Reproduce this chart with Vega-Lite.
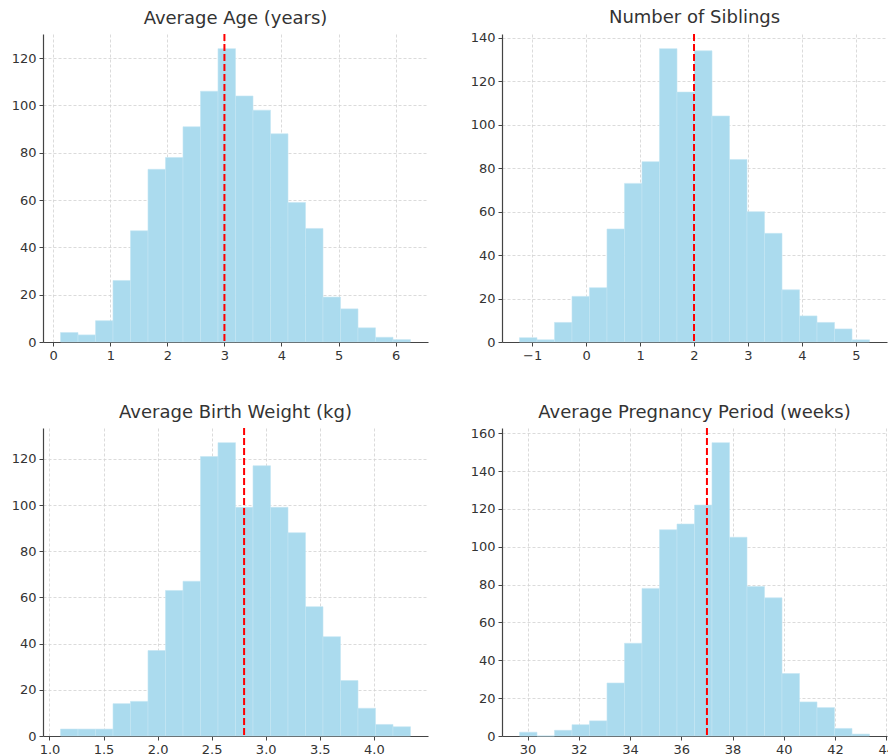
{
  "$schema": "https://vega.github.io/schema/vega-lite/v6.json",
  "background": "white",
  "padding": {"left": 11, "top": 8, "right": 0, "bottom": 0},
  "datasets": {
    "age": [
      {"bin_start": 0.128, "bin_end": 0.4346, "count": 4},
      {"bin_start": 0.4346, "bin_end": 0.7412, "count": 3},
      {"bin_start": 0.7412, "bin_end": 1.0478, "count": 9},
      {"bin_start": 1.0478, "bin_end": 1.3544, "count": 26},
      {"bin_start": 1.3544, "bin_end": 1.661, "count": 47},
      {"bin_start": 1.661, "bin_end": 1.9676, "count": 73},
      {"bin_start": 1.9676, "bin_end": 2.2742, "count": 78},
      {"bin_start": 2.2742, "bin_end": 2.5808, "count": 91},
      {"bin_start": 2.5808, "bin_end": 2.8874, "count": 106},
      {"bin_start": 2.8874, "bin_end": 3.194, "count": 124},
      {"bin_start": 3.194, "bin_end": 3.5006, "count": 104},
      {"bin_start": 3.5006, "bin_end": 3.8072, "count": 98},
      {"bin_start": 3.8072, "bin_end": 4.1138, "count": 88},
      {"bin_start": 4.1138, "bin_end": 4.4204, "count": 59},
      {"bin_start": 4.4204, "bin_end": 4.727, "count": 48},
      {"bin_start": 4.727, "bin_end": 5.0336, "count": 19},
      {"bin_start": 5.0336, "bin_end": 5.3402, "count": 14},
      {"bin_start": 5.3402, "bin_end": 5.6468, "count": 6},
      {"bin_start": 5.6468, "bin_end": 5.9534, "count": 2},
      {"bin_start": 5.9534, "bin_end": 6.26, "count": 1}
    ],
    "siblings": [
      {"bin_start": -1.235, "bin_end": -0.9106, "count": 2},
      {"bin_start": -0.9106, "bin_end": -0.5862, "count": 1},
      {"bin_start": -0.5862, "bin_end": -0.2618, "count": 9},
      {"bin_start": -0.2618, "bin_end": 0.0626, "count": 21},
      {"bin_start": 0.0626, "bin_end": 0.387, "count": 25},
      {"bin_start": 0.387, "bin_end": 0.7114, "count": 52},
      {"bin_start": 0.7114, "bin_end": 1.0358, "count": 73},
      {"bin_start": 1.0358, "bin_end": 1.3602, "count": 83},
      {"bin_start": 1.3602, "bin_end": 1.6846, "count": 135},
      {"bin_start": 1.6846, "bin_end": 2.009, "count": 115},
      {"bin_start": 2.009, "bin_end": 2.3334, "count": 134},
      {"bin_start": 2.3334, "bin_end": 2.6578, "count": 104},
      {"bin_start": 2.6578, "bin_end": 2.9822, "count": 84},
      {"bin_start": 2.9822, "bin_end": 3.3066, "count": 60},
      {"bin_start": 3.3066, "bin_end": 3.631, "count": 50},
      {"bin_start": 3.631, "bin_end": 3.9554, "count": 24},
      {"bin_start": 3.9554, "bin_end": 4.2798, "count": 12},
      {"bin_start": 4.2798, "bin_end": 4.6042, "count": 9},
      {"bin_start": 4.6042, "bin_end": 4.9286, "count": 6},
      {"bin_start": 4.9286, "bin_end": 5.253, "count": 1}
    ],
    "weight": [
      {"bin_start": 1.102, "bin_end": 1.2639, "count": 3},
      {"bin_start": 1.2639, "bin_end": 1.4257, "count": 3},
      {"bin_start": 1.4257, "bin_end": 1.5876, "count": 3},
      {"bin_start": 1.5876, "bin_end": 1.7494, "count": 14},
      {"bin_start": 1.7494, "bin_end": 1.9113, "count": 15},
      {"bin_start": 1.9113, "bin_end": 2.0731, "count": 37},
      {"bin_start": 2.0731, "bin_end": 2.235, "count": 63},
      {"bin_start": 2.235, "bin_end": 2.3968, "count": 67},
      {"bin_start": 2.3968, "bin_end": 2.5587, "count": 121},
      {"bin_start": 2.5587, "bin_end": 2.7205, "count": 127},
      {"bin_start": 2.7205, "bin_end": 2.8824, "count": 99},
      {"bin_start": 2.8824, "bin_end": 3.0442, "count": 117},
      {"bin_start": 3.0442, "bin_end": 3.2061, "count": 99},
      {"bin_start": 3.2061, "bin_end": 3.3679, "count": 88},
      {"bin_start": 3.3679, "bin_end": 3.5298, "count": 56},
      {"bin_start": 3.5298, "bin_end": 3.6916, "count": 43},
      {"bin_start": 3.6916, "bin_end": 3.8535, "count": 24},
      {"bin_start": 3.8535, "bin_end": 4.0153, "count": 12},
      {"bin_start": 4.0153, "bin_end": 4.1772, "count": 5},
      {"bin_start": 4.1772, "bin_end": 4.339, "count": 4}
    ],
    "pregnancy": [
      {"bin_start": 29.687, "bin_end": 30.37, "count": 2},
      {"bin_start": 30.37, "bin_end": 31.052, "count": 0},
      {"bin_start": 31.052, "bin_end": 31.735, "count": 3},
      {"bin_start": 31.735, "bin_end": 32.418, "count": 6},
      {"bin_start": 32.418, "bin_end": 33.101, "count": 8},
      {"bin_start": 33.101, "bin_end": 33.784, "count": 28},
      {"bin_start": 33.784, "bin_end": 34.466, "count": 49},
      {"bin_start": 34.466, "bin_end": 35.149, "count": 78},
      {"bin_start": 35.149, "bin_end": 35.832, "count": 109},
      {"bin_start": 35.832, "bin_end": 36.515, "count": 112},
      {"bin_start": 36.515, "bin_end": 37.197, "count": 122},
      {"bin_start": 37.197, "bin_end": 37.88, "count": 155},
      {"bin_start": 37.88, "bin_end": 38.563, "count": 105},
      {"bin_start": 38.563, "bin_end": 39.246, "count": 79},
      {"bin_start": 39.246, "bin_end": 39.928, "count": 73},
      {"bin_start": 39.928, "bin_end": 40.611, "count": 33},
      {"bin_start": 40.611, "bin_end": 41.294, "count": 18},
      {"bin_start": 41.294, "bin_end": 41.977, "count": 15},
      {"bin_start": 41.977, "bin_end": 42.66, "count": 4},
      {"bin_start": 42.66, "bin_end": 43.342, "count": 1}
    ]
  },
  "columns": 2,
  "bounds": "flush",
  "spacing": {"row": 86, "column": 74},
  "concat": [
    {
      "title": "Average Age (years)",
      "width": 385,
      "height": 308,
      "layer": [
        {
          "data": {"name": "age"},
          "mark": {"type": "bar", "color": "#ABDBEE", "stroke": "#C4E6F3", "strokeWidth": 0.6},
          "encoding": {
            "x": {"field": "bin_start", "type": "quantitative", "scale": {"domain": [-0.179, 6.567], "nice": false, "zero": false}, "axis": {"values": [0, 1, 2, 3, 4, 5, 6], "format": "d"}},
            "x2": {"field": "bin_end"},
            "y": {"field": "count", "type": "quantitative", "scale": {"domain": [0, 130.2], "nice": false}, "axis": {"values": [0, 20, 40, 60, 80, 100, 120]}},
            "y2": {"datum": 0}
          }
        },
        {
          "data": {"values": [{"mean": 3}]},
          "mark": {"type": "rule", "color": "#FF0000", "strokeWidth": 2, "strokeDash": [7, 3]},
          "encoding": {"x": {"field": "mean", "type": "quantitative"}}
        }
      ]
    },
    {
      "title": "Number of Siblings",
      "width": 385,
      "height": 308,
      "layer": [
        {
          "data": {"name": "siblings"},
          "mark": {"type": "bar", "color": "#ABDBEE", "stroke": "#C4E6F3", "strokeWidth": 0.6},
          "encoding": {
            "x": {"field": "bin_start", "type": "quantitative", "scale": {"domain": [-1.559, 5.577], "nice": false, "zero": false}, "axis": {"values": [-1, 0, 1, 2, 3, 4, 5], "format": "d"}},
            "x2": {"field": "bin_end"},
            "y": {"field": "count", "type": "quantitative", "scale": {"domain": [0, 141.75], "nice": false}, "axis": {"values": [0, 20, 40, 60, 80, 100, 120, 140]}},
            "y2": {"datum": 0}
          }
        },
        {
          "data": {"values": [{"mean": 2}]},
          "mark": {"type": "rule", "color": "#FF0000", "strokeWidth": 2, "strokeDash": [7, 3]},
          "encoding": {"x": {"field": "mean", "type": "quantitative"}}
        }
      ]
    },
    {
      "title": "Average Birth Weight (kg)",
      "width": 385,
      "height": 308,
      "layer": [
        {
          "data": {"name": "weight"},
          "mark": {"type": "bar", "color": "#ABDBEE", "stroke": "#C4E6F3", "strokeWidth": 0.6},
          "encoding": {
            "x": {"field": "bin_start", "type": "quantitative", "scale": {"domain": [0.940, 4.501], "nice": false, "zero": false}, "axis": {"values": [1.0, 1.5, 2.0, 2.5, 3.0, 3.5, 4.0], "format": ".1f"}},
            "x2": {"field": "bin_end"},
            "y": {"field": "count", "type": "quantitative", "scale": {"domain": [0, 133.35], "nice": false}, "axis": {"values": [0, 20, 40, 60, 80, 100, 120]}},
            "y2": {"datum": 0}
          }
        },
        {
          "data": {"values": [{"mean": 2.8}]},
          "mark": {"type": "rule", "color": "#FF0000", "strokeWidth": 2, "strokeDash": [7, 3]},
          "encoding": {"x": {"field": "mean", "type": "quantitative"}}
        }
      ]
    },
    {
      "title": "Average Pregnancy Period (weeks)",
      "width": 385,
      "height": 308,
      "layer": [
        {
          "data": {"name": "pregnancy"},
          "mark": {"type": "bar", "color": "#ABDBEE", "stroke": "#C4E6F3", "strokeWidth": 0.6},
          "encoding": {
            "x": {"field": "bin_start", "type": "quantitative", "scale": {"domain": [29.004, 44.025], "nice": false, "zero": false}, "axis": {"values": [30, 32, 34, 36, 38, 40, 42, 44], "format": "d"}},
            "x2": {"field": "bin_end"},
            "y": {"field": "count", "type": "quantitative", "scale": {"domain": [0, 162.75], "nice": false}, "axis": {"values": [0, 20, 40, 60, 80, 100, 120, 140, 160]}},
            "y2": {"datum": 0}
          }
        },
        {
          "data": {"values": [{"mean": 37}]},
          "mark": {"type": "rule", "color": "#FF0000", "strokeWidth": 2, "strokeDash": [7, 3]},
          "encoding": {"x": {"field": "mean", "type": "quantitative"}}
        }
      ]
    }
  ],
  "config": {
    "view": {"stroke": null},
    "font": "DejaVu Sans",
    "title": {"fontSize": 18, "fontWeight": "normal", "color": "#333333", "offset": 5, "font": "DejaVu Sans"},
    "axis": {
      "title": null,
      "domainColor": "#444444",
      "domainWidth": 1.2,
      "tickColor": "#444444",
      "tickSize": 4,
      "labelPadding": 3,
      "labelColor": "#333333",
      "labelFontSize": 13,
      "labelFont": "DejaVu Sans",
      "grid": true,
      "gridColor": "#d2d2d2",
      "gridDash": [3, 2],
      "gridWidth": 0.8,
      "labelOverlap": false,
      "labelFlush": false
    }
  }
}
